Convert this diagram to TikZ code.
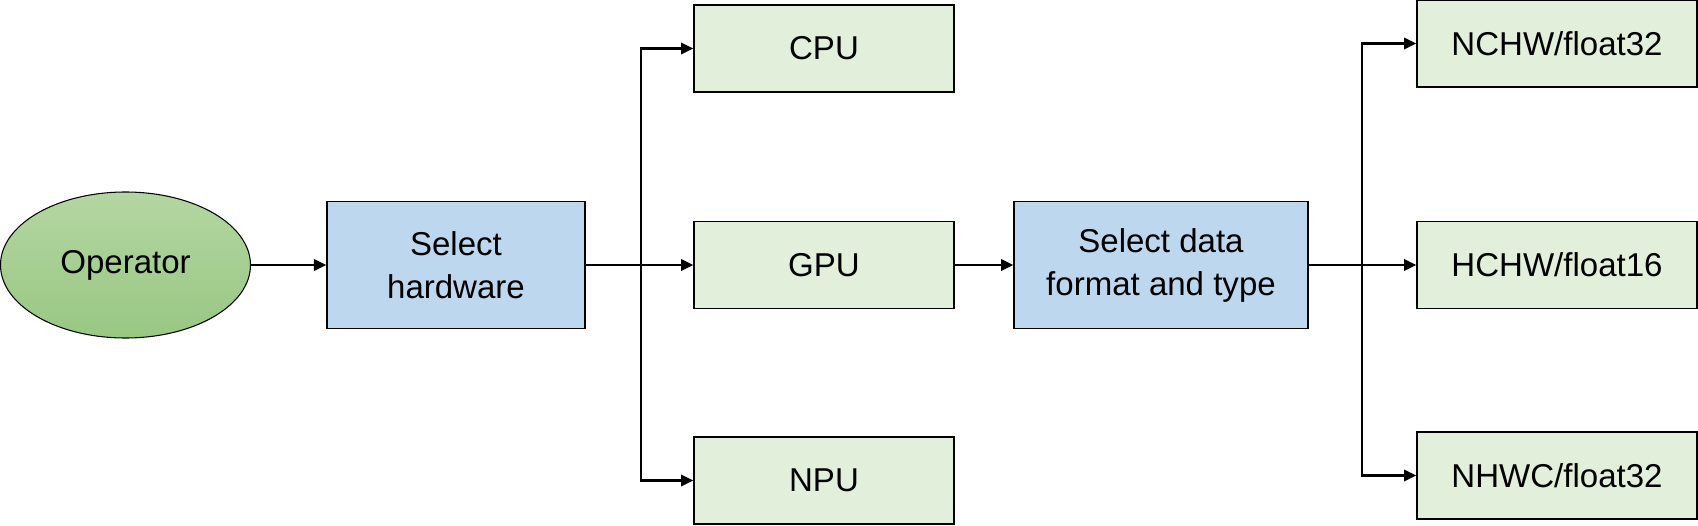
\documentclass[tikz,border=0pt]{standalone}
\usepackage{fontspec}
\setmainfont{Liberation Sans}
\usepackage{tikz}
\usetikzlibrary{arrows.meta,shapes.geometric}
\definecolor{hwblue}{HTML}{BDD7EE}
\definecolor{optgreen}{HTML}{E2EFDA}
\definecolor{optop}{HTML}{B4D6A2}
\definecolor{opbot}{HTML}{98C882}

\begin{document}
\begin{tikzpicture}[
    font=\fontsize{18.8}{24.5}\selectfont,
    stagebox/.style={draw, line width=.8pt, fill=hwblue, minimum height=2.54cm, align=center},
    choicebox/.style={draw, line width=.8pt, fill=optgreen, minimum height=1.74cm},
    flow/.style={line width=1.2pt, -{Triangle[length=7pt,width=6.5pt]}},
  ]
    \useasboundingbox (0,0) rectangle (33.96,10.5);
    \node[ellipse, draw, line width=.6pt, top color=optop, bottom color=opbot, minimum width=5cm, minimum height=2.92cm] (op) at (2.51,5.2) {Operator};
    \node[stagebox, minimum width=5.16cm] (hw) at (9.12,5.2) {Select\\hardware};
    \node[choicebox, minimum width=5.2cm] (cpu) at (16.48,9.53) {CPU};
    \node[choicebox, minimum width=5.2cm] (gpu) at (16.48,5.2) {GPU};
    \node[choicebox, minimum width=5.2cm] (npu) at (16.48,0.89) {NPU};
    \node[stagebox, minimum width=5.88cm] (fmt) at (23.22,5.2) {Select data\\format and type};
    \node[choicebox, minimum width=5.6cm] (nchw) at (31.14,9.63) {NCHW/float32};
    \node[choicebox, minimum width=5.6cm] (hchw) at (31.14,5.2) {HCHW/float16};
    \node[choicebox, minimum width=5.6cm] (nhwc) at (31.14,0.99) {NHWC/float32};
    \coordinate (hwsplit) at (12.82,5.2);
    \coordinate (fmtsplit) at (27.24,5.2);
    \draw[flow] (op) -- (hw);
    \draw[flow] (hw) -- (gpu);
    \draw[flow] (hwsplit) |- (cpu);
    \draw[flow] (hwsplit) |- (npu);
    \draw[flow] (gpu) -- (fmt);
    \draw[flow] (fmt) -- (hchw);
    \draw[flow] (fmtsplit) |- (nchw);
    \draw[flow] (fmtsplit) |- (nhwc);
\end{tikzpicture}
\end{document}
